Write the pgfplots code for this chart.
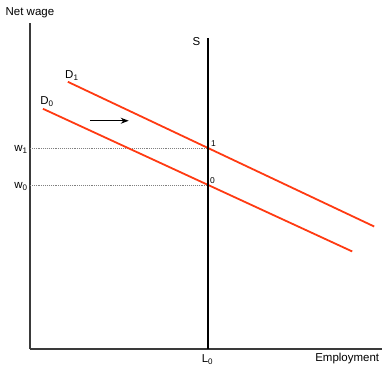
\documentclass[border=0pt]{standalone}
\usepackage{fontspec}
\setmainfont{Liberation Sans}
\usepackage{pgfplots}
\pgfplotsset{compat=1.18}
\usetikzlibrary{arrows.meta}
\definecolor{demandred}{HTML}{FF3A12}
\definecolor{axisgray}{HTML}{3A3A3A}

\begin{document}
\begin{tikzpicture}
\begin{axis}[
  scale only axis,
  width=353pt, height=327pt,
  xmin=30, xmax=383, ymin=20, ymax=347,
  axis x line=bottom, axis y line=left,
  axis line style={axisgray, line width=1.7pt, -},
  xtick=\empty, ytick=\empty,
  clip=false,
  font=\fontsize{11.5}{13}\selectfont,
]
% invisible frame so the page matches the reference
\path (axis cs:0,0) (axis cs:383,370);
% reference lines
\addplot[gray, densely dotted, line width=0.9pt] coordinates {(30,221.5) (208,221.5)};
\addplot[gray, densely dotted, line width=0.9pt] coordinates {(30,184.5) (208,184.5)};
% demand curves
\addplot[demandred, line width=1.8pt] coordinates {(68,288) (375,143)};
\addplot[demandred, line width=1.8pt] coordinates {(43,261) (353,118)};
% supply
\addplot[black, line width=2pt] coordinates {(208,20) (208,332)};
% shift arrow
\addplot[black, line width=1.2pt, -{Stealth[length=8pt,width=6pt]}] coordinates {(90,249) (129,249)};

\node at (axis cs:30,357) {Net wage};
\node at (axis cs:197,328) {S};
\node at (axis cs:72,294) {D\textsubscript{1}};
\node at (axis cs:47,268) {D\textsubscript{0}};
\node at (axis cs:21,220) {w\textsubscript{1}};
\node at (axis cs:21,183) {w\textsubscript{0}};
\node[font=\fontsize{8.5}{10}\selectfont] at (axis cs:214,226) {1};
\node[font=\fontsize{8.5}{10}\selectfont] at (axis cs:213,189) {0};
\node at (axis cs:208,10) {L\textsubscript{0}};
\node at (axis cs:348,11) {Employment};
\end{axis}
\end{tikzpicture}
\end{document}
